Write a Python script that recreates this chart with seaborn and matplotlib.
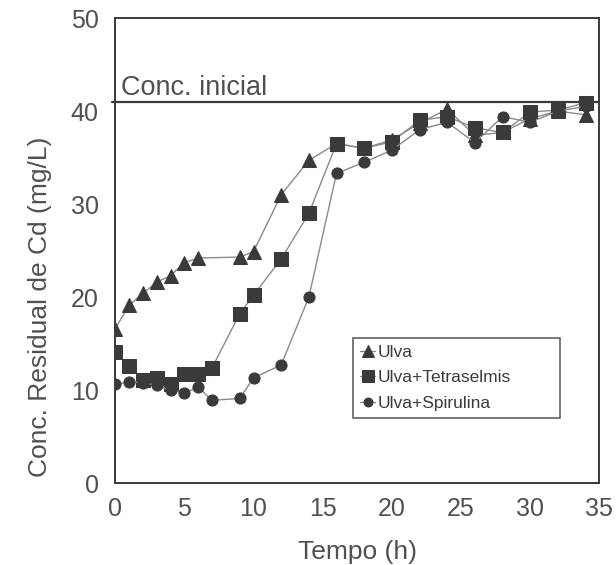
import pandas as pd
import matplotlib
matplotlib.use("Agg")
import matplotlib.pyplot as plt
import seaborn as sns

# values
tempo_ulva = [0, 1, 2, 3, 4, 5, 6, 9, 10, 12, 14, 16, 18, 20, 22, 24, 26, 28, 30, 32, 34]
cd_ulva = [16.6, 19.1, 20.4, 21.6, 22.3, 23.7, 24.2, 24.3, 24.9, 31.0, 34.7, 36.5, 36.0,
           36.9, 38.7, 40.2, 37.4, 37.7, 39.2, 40.0, 39.6]

tempo_tetra = [0, 1, 2, 3, 4, 5, 6, 7, 9, 10, 12, 14, 16, 18, 20, 22, 24, 26, 28, 30, 32, 34]
cd_tetra = [14.1, 12.6, 11.1, 11.3, 10.7, 11.7, 11.7, 12.4, 18.2, 20.2, 24.1, 29.0, 36.5,
            36.0, 36.7, 39.0, 39.4, 38.2, 37.7, 39.9, 40.1, 40.9]

tempo_spir = [0, 1, 2, 3, 4, 5, 6, 7, 9, 10, 12, 14, 16, 18, 20, 22, 24, 26, 28, 30, 32, 34]
cd_spir = [10.6, 10.9, 10.8, 10.5, 10.0, 9.7, 10.3, 8.9, 9.1, 11.3, 12.7, 20.0, 33.3,
           34.5, 35.8, 38.0, 38.8, 36.6, 39.4, 38.8, 40.0, 40.5]

conc_inicial = 41

x_ticks = [0, 5, 10, 15, 20, 25, 30, 35]
y_ticks = [0, 10, 20, 30, 40, 50]

sns.set_style("white")
plt.rcParams['font.family'] = ['Liberation Sans', 'DejaVu Sans']

ink = "#3a3a3a"
line_col = "#8a8a8a"
txt = "#505050"

fig = plt.figure(figsize=(6.16, 5.65), dpi=100)
ax = fig.add_axes([0.187, 0.145, 0.786, 0.823])

series = [
    (tempo_ulva, cd_ulva, "^", "Ulva"),
    (tempo_tetra, cd_tetra, "s", "Ulva+Tetraselmis"),
    (tempo_spir, cd_spir, "o", "Ulva+Spirulina"),
]
for xs, ys, mk, name in series:
    df = pd.DataFrame({"Tempo": xs, "Cd": ys})
    sns.lineplot(data=df, x="Tempo", y="Cd", ax=ax, color=line_col, linewidth=1.0,
                 marker=mk, markersize=10 if mk != "o" else 8, markerfacecolor=ink,
                 markeredgecolor=ink, label=name)

# initial concentration line
ax.axhline(conc_inicial, xmin=-0.007, color=ink, linewidth=1.6, clip_on=False)
ax.text(0.4, conc_inicial + 0.1, "Conc. inicial", fontsize=19.5, color=txt,
        ha="left", va="bottom")

ax.set_xlim(0, 35)
ax.set_ylim(0, 50)
ax.set_xticks(x_ticks)
ax.set_yticks(y_ticks)
ax.tick_params(axis="both", length=0, labelsize=18, colors=txt)
ax.tick_params(axis="x", pad=10)
ax.tick_params(axis="y", pad=12)
ax.set_xlabel("Tempo (h)", fontsize=19, color=txt, labelpad=14)
ax.set_ylabel("Conc. Residual de Cd (mg/L)", fontsize=19, color=txt)
ax.yaxis.set_label_coords(-0.13, 0.38)

for sp in ax.spines.values():
    sp.set_visible(True)
    sp.set_color(ink)
    sp.set_linewidth(1.4)

leg = ax.legend(loc="lower left", bbox_to_anchor=(0.491, 0.14, 0.427, 0.17),
                mode="expand", fontsize=12.5,
                frameon=True, fancybox=False, handlelength=0.9, handletextpad=0.15,
                borderpad=0.4, labelspacing=0.6, markerscale=0.8, borderaxespad=0)
leg.get_frame().set_edgecolor(ink)
leg.get_frame().set_linewidth(1.2)
for t in leg.get_texts():
    t.set_color(ink)

fig.savefig("out.png", dpi=100)
